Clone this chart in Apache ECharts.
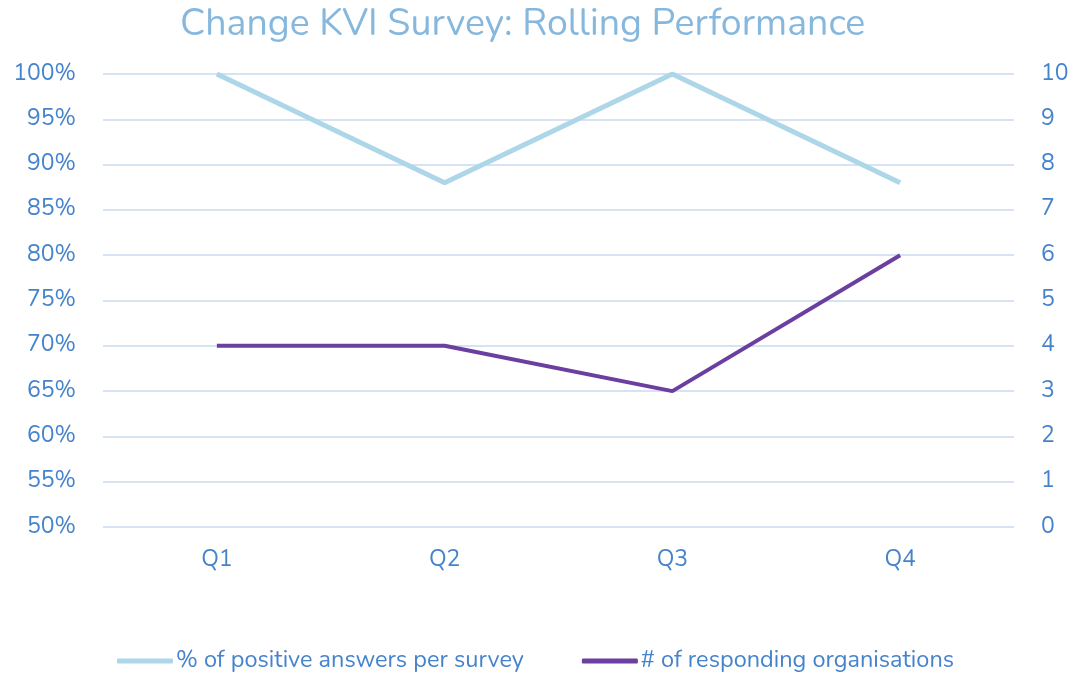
<!DOCTYPE html>
<html>
<head>
<meta charset="utf-8">
<style>
  html, body { margin: 0; padding: 0; background: #fff; }
  #chart { width: 1083px; height: 674px; }
</style>
<script src="https://cdn.jsdelivr.net/npm/echarts@6/dist/echarts.min.js"></script>
</head>
<body>
<div id="chart"></div>
<script>
// data
const quarters = ['Q1', 'Q2', 'Q3', 'Q4'];
const positivePct = [100, 88, 100, 88];
const respondingOrgs = [4, 4, 3, 6];
const seriesNames = ['% of positive answers per survey', '# of responding organisations'];

const font = 'Nunito, Lato, "Open Sans", sans-serif';
const labelColor = '#4583cc';

var myChart = echarts.init(document.getElementById('chart'));

let option = {
    animation: false,
    title: {
        text: 'Change KVI Survey: Rolling Performance',
        left: 175,
        top: 2,
        textStyle: {
            color: '#86b8de',
            fontSize: 37.5,
            fontWeight: 'normal',
            fontFamily: font
        }
    },
    legend: {
        top: 644,
        left: 112,
        itemWidth: 56,
        itemHeight: 5,
        itemGap: 58,
        icon: 'roundRect',
        textStyle: { color: labelColor, fontSize: 23.5, fontFamily: font, padding: [0, 0, 0, -2] },
        data: seriesNames
    },
    grid: {
        left: 103,
        right: 69,
        top: 74,
        bottom: 147
    },
    xAxis: {
        type: 'category',
        data: quarters,
        boundaryGap: true,
        axisLine: { show: false },
        axisTick: { show: false },
        axisLabel: { color: labelColor, fontSize: 23, fontFamily: font, margin: 22 }
    },
    yAxis: [
        {
            type: 'value',
            min: 50,
            max: 100,
            interval: 5,
            axisLine: { show: false },
            axisTick: { show: false },
            splitLine: { lineStyle: { color: '#d5e3f3', width: 2 } },
            axisLabel: {
                color: labelColor, fontSize: 23, fontFamily: font, margin: 27,
                formatter: '{value}%'
            }
        },
        {
            type: 'value',
            min: 0,
            max: 10,
            interval: 1,
            axisLine: { show: false },
            axisTick: { show: false },
            splitLine: { show: false },
            axisLabel: { color: labelColor, fontSize: 23, fontFamily: font, margin: 27 }
        }
    ],
    series: [
        {
            name: seriesNames[0],
            type: 'line',
            yAxisIndex: 0,
            data: positivePct,
            symbol: 'none',
            color: '#add6e8',
            lineStyle: { width: 5, color: '#add6e8' }
        },
        {
            name: seriesNames[1],
            type: 'line',
            yAxisIndex: 1,
            data: respondingOrgs,
            symbol: 'none',
            color: '#6a3fa0',
            lineStyle: { width: 4, color: '#6a3fa0' }
        }
    ]
};

myChart.setOption(option);
</script>
</body>
</html>
